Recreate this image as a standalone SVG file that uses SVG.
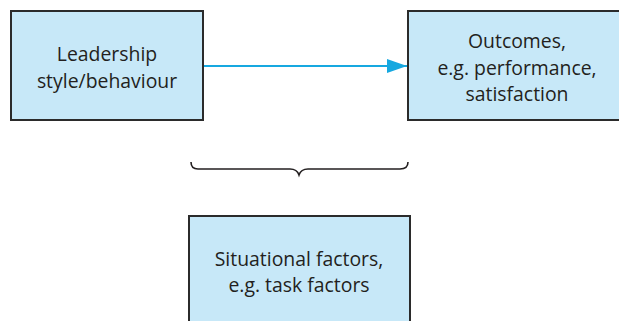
<svg xmlns="http://www.w3.org/2000/svg" width="619" height="321" viewBox="0 0 619 321">
  <defs>
    <style>
      .box { fill: #c7e8f8; stroke: #2b2b2b; stroke-width: 2; }
      .label { font-family: "Open Sans", "Liberation Sans", sans-serif; font-size: 19.4px; fill: #231f20; text-anchor: middle; }
      .link { stroke: #16a8e0; stroke-width: 2; fill: none; }
      .brace { stroke: #231f20; stroke-width: 1.6; fill: none; }
    </style>
    <marker id="arrowhead" markerWidth="20" markerHeight="14" refX="20" refY="7" orient="auto" markerUnits="userSpaceOnUse">
      <path d="M0,0 L20,7 L0,14 Z" fill="#16a8e0"/>
    </marker>
  </defs>
  <rect width="619" height="321" fill="#ffffff"/>

  <g id="leadership">
    <rect class="box" x="11" y="11" width="192" height="109"/>
    <text class="label" x="107" y="61">Leadership</text>
    <text class="label" x="107" y="88">style/behaviour</text>
  </g>

  <g id="outcomes">
    <rect class="box" x="408" y="11" width="220" height="109"/>
    <text class="label" x="517" y="48">Outcomes,</text>
    <text class="label" x="517" y="75">e.g. performance,</text>
    <text class="label" x="517" y="101">satisfaction</text>
  </g>

  <g id="situational">
    <rect class="box" x="189" y="216" width="221" height="115"/>
    <text class="label" x="299" y="266">Situational factors,</text>
    <text class="label" x="299" y="292">e.g. task factors</text>
  </g>

  <g id="connectors">
    <line class="link" x1="204" y1="66" x2="407" y2="66" marker-end="url(#arrowhead)"/>
    <path class="brace" d="M191,162 Q191,169 198,169 L290,169 Q297,169 299,175 Q301,169 308,169 L400,169 Q408,169 408,162"/>
  </g>
</svg>
